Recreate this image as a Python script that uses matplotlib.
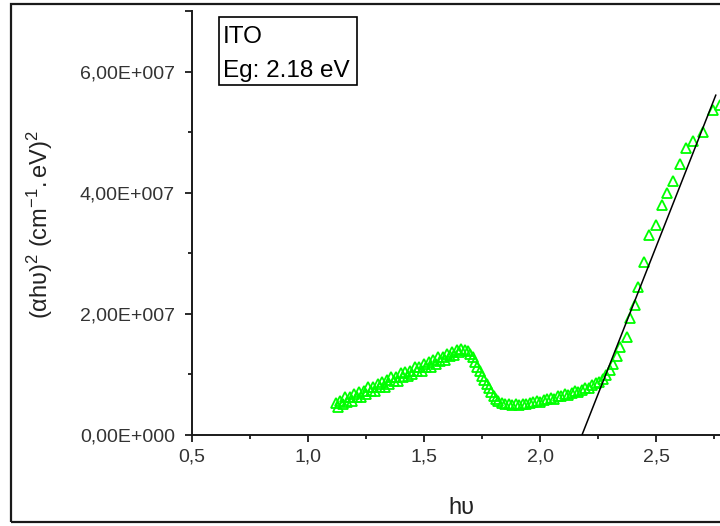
import matplotlib
matplotlib.use("Agg")
import matplotlib.pyplot as plt
from matplotlib.patches import Rectangle

plt.rcParams['font.family'] = ['Liberation Sans', 'DejaVu Sans']
plt.rcParams['mathtext.fontset'] = 'custom'
plt.rcParams['mathtext.rm'] = 'Liberation Sans'
plt.rcParams['mathtext.it'] = 'Liberation Sans'

# Photon energy (eV)
photon_energy = [
    1.12, 1.13, 1.14, 1.15, 1.16, 1.17, 1.18, 1.19, 1.20, 1.21,
    1.22, 1.23, 1.24, 1.25, 1.26, 1.27, 1.28, 1.29, 1.30, 1.31,
    1.32, 1.33, 1.34, 1.35, 1.36, 1.37, 1.38, 1.39, 1.40, 1.41,
    1.42, 1.43, 1.44, 1.45, 1.46, 1.47, 1.48, 1.49, 1.50, 1.51,
    1.52, 1.53, 1.54, 1.55, 1.56, 1.57, 1.58, 1.59, 1.60, 1.61,
    1.62, 1.63, 1.64, 1.65, 1.66,
    1.675, 1.69, 1.70, 1.71, 1.72, 1.73, 1.74, 1.75, 1.76, 1.77,
    1.78, 1.79, 1.80, 1.81, 1.82, 1.835, 1.85, 1.865, 1.88, 1.895,
    1.91, 1.925, 1.94, 1.955, 1.97, 1.985, 2.00, 2.015, 2.03, 2.045,
    2.06, 2.075, 2.09, 2.105, 2.12, 2.135, 2.15, 2.165, 2.18, 2.195,
    2.21, 2.225, 2.24, 2.255, 2.27, 2.285, 2.30, 2.315, 2.33, 2.345,
    2.374, 2.387, 2.408, 2.42, 2.447, 2.47, 2.498, 2.525, 2.547, 2.572,
    2.60, 2.63, 2.66, 2.70, 2.745, 2.775,
]

# (alpha*h*nu)^2 in units of 1e6 (cm^-1 . eV)^2
alpha_hv_sq_1e6 = [
    5.3, 4.7, 5.6, 5.1, 6.3, 5.5, 6.2, 5.6, 6.8, 6.3,
    7.1, 6.3, 7.3, 6.8, 7.9, 7.2, 7.9, 7.2, 8.5, 8.0,
    8.7, 8.0, 9.0, 8.4, 9.6, 8.9, 9.5, 8.9, 10.2, 9.6,
    10.4, 9.7, 10.6, 10.1, 11.3, 10.5, 11.2, 10.6, 11.8, 11.3,
    12.1, 11.3, 12.3, 11.8, 12.8, 12.2, 12.9, 12.3, 13.4, 13.0,
    13.7, 13.2, 14.1, 13.7, 14.2,
    14.1, 13.8, 13.3, 12.8, 12.1, 11.3, 10.5, 9.8, 9.1, 8.5,
    7.8, 7.1, 6.4, 5.9, 5.6, 5.3, 5.2, 5.1, 5.0, 5.1,
    5.0, 5.2, 5.1, 5.3, 5.4, 5.6, 5.5, 5.8, 5.9, 6.1,
    6.0, 6.4, 6.5, 6.7, 6.6, 7.0, 7.2, 7.1, 7.5, 7.8,
    7.7, 8.2, 8.6, 8.8, 9.3, 9.9, 10.8, 11.8, 13.0, 14.5,
    16.2, 19.3, 21.4, 24.4, 28.5, 33.0, 34.6, 37.9, 40.0, 42.0,
    44.8, 47.3, 48.6, 50.0, 53.6, 54.4,
]
data_scale = 1e6

# Linear extrapolation of the absorption edge
band_gap = 2.18          # eV, intercept with the energy axis
fit_slope = 9.74e7       # (cm^-1 . eV)^2 per eV
fit_end = 2.756          # eV

xtick_values = [0.5, 1.0, 1.5, 2.0, 2.5]
xtick_labels = ['0,5', '1,0', '1,5', '2,0', '2,5']
xminor_values = [0.75, 1.25, 1.75, 2.25, 2.75]
ytick_values = [0, 2e7, 4e7, 6e7, 7e7]
ytick_labels = ['0,00E+000', '2,00E+007', '4,00E+007', '6,00E+007', '']
yminor_values = [1e7, 3e7, 5e7]

W, H = 720, 526
fig = plt.figure(figsize=(W / 100, H / 100), dpi=100)

# outer frame
fig.patches.append(Rectangle((10.5 / W, 4 / H), 1.2, (522 - 4) / H,
                             transform=fig.transFigure, fill=False,
                             edgecolor='#1a1a1a', linewidth=1.6, zorder=0))

ax_left, ax_right, ax_bottom, ax_top = 191.7, 728.0, 435.0, 11.0
ax = fig.add_axes([ax_left / W, (H - ax_bottom) / H,
                   (ax_right - ax_left) / W, (ax_bottom - ax_top) / H])
ax.patch.set_alpha(0)

yvals = [v * data_scale for v in alpha_hv_sq_1e6]
ax.plot(photon_energy, yvals, linestyle='none', marker='^', markersize=7,
        markerfacecolor='none', markeredgecolor='#00ff00',
        markeredgewidth=1.3, zorder=2, clip_on=False)

ax.plot([band_gap, fit_end], [0, fit_slope * (fit_end - band_gap)],
        color='black', linewidth=1.1, zorder=3)

ax.set_xlim(0.5, 0.5 + (ax_right - ax_left) / 232.3)
ax.set_ylim(0, 7e7)

for side in ('top', 'right'):
    ax.spines[side].set_visible(False)
for side in ('left', 'bottom'):
    ax.spines[side].set_linewidth(1.4)
    ax.spines[side].set_color('#1a1a1a')

ax.set_xticks(xtick_values, labels=xtick_labels)
ax.set_xticks(xminor_values, minor=True)
ax.set_yticks(ytick_values, labels=ytick_labels)
ax.set_yticks(yminor_values, minor=True)

ax.tick_params(axis='both', which='major', direction='out', length=5.2,
               width=1.3, color='#1a1a1a', labelsize=14, labelcolor='#333333')
ax.tick_params(axis='both', which='minor', direction='out', length=3,
               width=1.3, color='#1a1a1a')
ax.tick_params(axis='x', which='major', pad=4.5)
ax.tick_params(axis='y', which='major', pad=7)

fig.text(40 / W, 1 - 224 / H,
         r'$\mathregular{(\alpha h\upsilon)^2\ (cm^{-1}.eV)^2}$',
         rotation=90, ha='center', va='center', fontsize=17, color='#222222')
fig.text(461 / W, 1 - 508 / H, 'hυ', ha='center', va='center',
         fontsize=17, color='#222222')

# annotation box
fig.patches.append(Rectangle((219 / W, 1 - 85 / H), (357 - 219) / W, (85 - 17) / H,
                             transform=fig.transFigure, fill=False,
                             edgecolor='black', linewidth=1.2, zorder=5))
fig.text(223 / W, 1 - 43 / H, 'ITO', ha='left', va='baseline',
         fontsize=17.5, color='black')
fig.text(223 / W, 1 - 77 / H, 'Eg: 2.18 eV', ha='left', va='baseline',
         fontsize=17.5, color='black')

fig.savefig('out.png', dpi=100)
